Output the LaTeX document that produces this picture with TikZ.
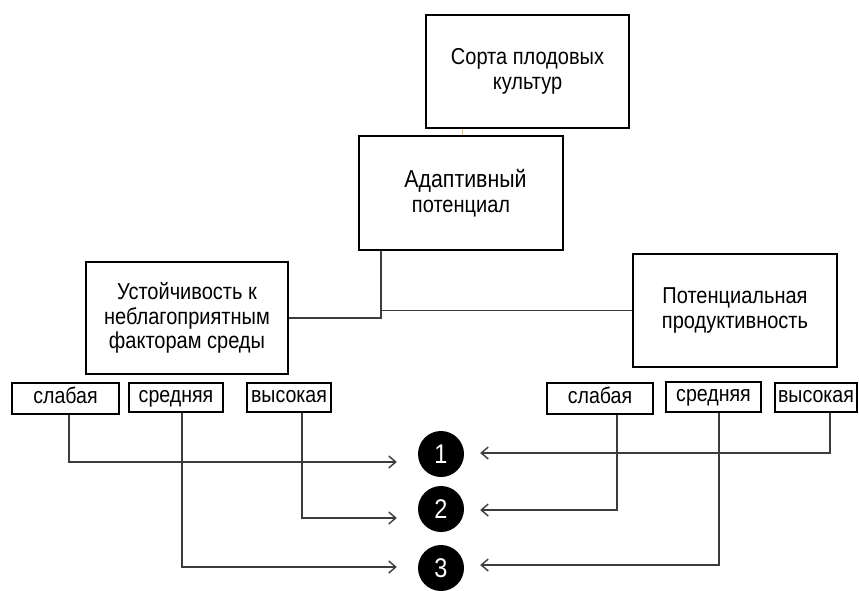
\documentclass[tikz,border=0pt]{standalone}
\usepackage{fontspec}
\setmainfont{Liberation Sans}[FakeStretch=0.87]
\usetikzlibrary{arrows.meta}
\begin{document}
\begin{tikzpicture}[x=1pt,y=-1pt,
  bigbox/.style={draw=black,line width=2.4pt,fill=white,align=center,inner sep=0pt,
    font=\fontsize{23}{24.5}\selectfont},
  smallbox/.style={draw=black,line width=2.2pt,fill=white,inner sep=0pt,
    text height=13pt,text depth=4pt,font=\fontsize{22.5}{24}\selectfont},
  numdot/.style={circle,fill=black,draw=none,minimum size=46pt,inner sep=0pt,
    text=white,font=\fontsize{27}{27}\selectfont},
  conn/.style={draw={rgb,255:red,60;green,60;blue,60},line width=1.4pt},
  arr/.style={-{Straight Barb[length=7pt,width=12pt]}},
  thinlink/.style={draw={rgb,255:red,225;green,190;blue,150},line width=0.8pt}]
\useasboundingbox (0,0) rectangle (859,590);
\fill[white] (0,0) rectangle (859,590);

% main boxes
\node[bigbox,minimum width=203pt,minimum height=113pt] (sorta) at (527.5,71.5)
  {Сорта плодовых\\культур};
\node[bigbox,minimum width=204pt,minimum height=114pt] (adapt) at (461,193)
  {{\fontsize{24.5}{24.5}\selectfont\hspace*{9pt}Адаптивный}\\потенциал};
\node[bigbox,minimum width=202pt,minimum height=112pt] (ustoi) at (187,318)
  {Устойчивость к\\неблагоприятным\\факторам среды};
\node[bigbox,minimum width=204pt,minimum height=113pt] (potent) at (735,310.5)
  {Потенциальная\\продуктивность};

% small boxes left
\node[smallbox,minimum width=107pt,minimum height=31pt] (slab1) at (65.5,398.5) {слабая};
\node[smallbox,minimum width=94pt,minimum height=29pt] (sred1) at (176,397.5) {средняя};
\node[smallbox,minimum width=84pt,minimum height=29pt] (vys1) at (289,397.5) {высокая};
% small boxes right
\node[smallbox,minimum width=106pt,minimum height=31pt] (slab2) at (600,398.5) {слабая};
\node[smallbox,minimum width=95pt,minimum height=30pt] (sred2) at (713.5,397) {средняя};
\node[smallbox,minimum width=82pt,minimum height=29pt] (vys2) at (816,397.5) {высокая};

% numbered dots
\node[numdot] (n1) at (441,454) {1};
\node[numdot] (n2) at (441,509) {2};
\node[numdot] (n3) at (441,568) {3};

% top links
\draw[thinlink] ([xshift=-65.5pt]sorta.south) -- ([xshift=1pt]adapt.north);
\draw[conn] ([xshift=-80pt]adapt.south) |- (ustoi.east);
\draw[conn] (potent.west) -| ([xshift=-80pt]adapt.south);

% arrows from left
\draw[conn,arr] ([xshift=3.5pt]slab1.south) |- ([xshift=-21pt,yshift=-8pt]n1.west);
\draw[conn,arr] ([xshift=13pt]vys1.south) |- ([xshift=-21pt,yshift=-9pt]n2.west);
\draw[conn,arr] ([xshift=6pt]sred1.south) |- ([xshift=-21pt,yshift=1pt]n3.west);
% arrows from right
\draw[conn,arr] ([xshift=14pt]vys2.south) |- ([xshift=16pt,yshift=1pt]n1.east);
\draw[conn,arr] ([xshift=17pt]slab2.south) |- ([xshift=16pt,yshift=-1pt]n2.east);
\draw[conn,arr] ([xshift=5.5pt]sred2.south) |- ([xshift=16pt,yshift=3pt]n3.east);
\end{tikzpicture}
\end{document}
